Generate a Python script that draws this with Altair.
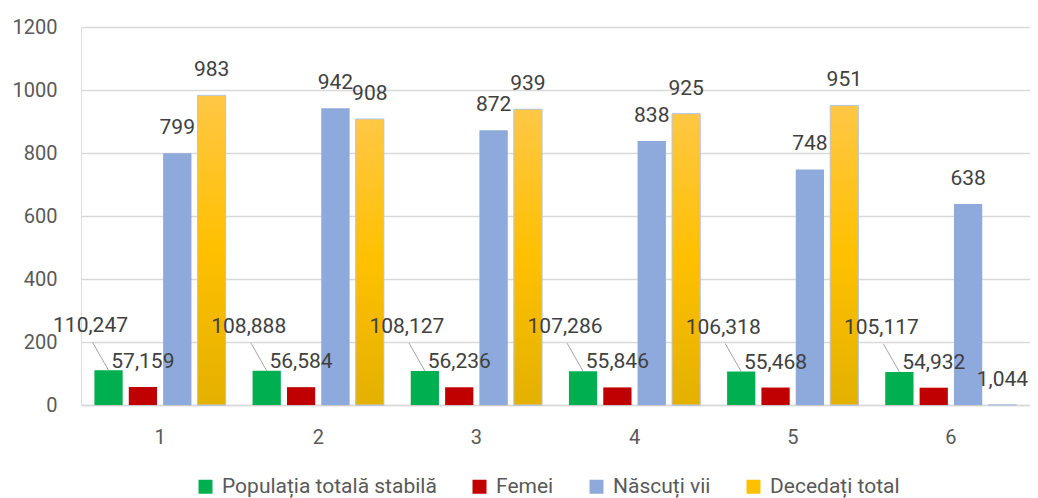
import altair as alt
import pandas as pd

categories = ["1", "2", "3", "4", "5", "6"]
series_names = ["Populația totală stabilă", "Femei", "Născuți vii", "Decedați total"]
populatie = [110.247, 108.888, 108.127, 107.286, 106.318, 105.117]
femei = [57.159, 56.584, 56.236, 55.846, 55.468, 54.932]
nascuti = [799, 942, 872, 838, 748, 638]
decedati = [983, 908, 939, 925, 951, 1.044]
colors = ["#00B050", "#C00000", "#8EA9DB", "#FFC000"]
y_ticks = [0, 200, 400, 600, 800, 1000, 1200]


def fmt(v):
    if float(v).is_integer():
        return str(int(v))
    return f"{v:.3f}".replace(".", ",")


rows = []
for s, vals in zip(series_names, [populatie, femei, nascuti, decedati]):
    for c, v in zip(categories, vals):
        rows.append({"cat": c, "series": s, "value": v, "label": fmt(v)})
df = pd.DataFrame(rows)

FONT = "Roboto"

x_enc = alt.X(
    "cat:N",
    sort=categories,
    scale=alt.Scale(paddingInner=0.17, paddingOuter=0.085),
    axis=alt.Axis(
        title=None, labelAngle=0, ticks=False, domain=True, domainColor="#D9D9D9",
        domainWidth=1.5, labelFontSize=20, labelColor="#595959", labelFont=FONT,
        labelPadding=22, grid=False,
    ),
)
xo_enc = alt.XOffset(
    "series:N", sort=series_names,
    scale=alt.Scale(domain=series_names, paddingInner=0.18, paddingOuter=0),
)
y_enc = alt.Y(
    "value:Q",
    scale=alt.Scale(domain=[0, 1200], nice=False),
    axis=alt.Axis(
        title=None, values=y_ticks, format="d", ticks=False, domain=False,
        gridColor="#D9D9D9", gridWidth=1.5, labelFontSize=20, labelColor="#595959",
        labelFont=FONT, labelPadding=24,
    ),
)

base = alt.Chart(df).encode(x=x_enc, xOffset=xo_enc, y=y_enc)

shadow = base.mark_bar(color="#BFBFBF", opacity=0.6, xOffset=2.5, yOffset=1)

bars = base.mark_bar().encode(
    color=alt.Color(
        "series:N", sort=series_names,
        scale=alt.Scale(domain=series_names, range=colors),
        legend=alt.Legend(
            title=None, orient="none", direction="horizontal", legendX=114, legendY=449,
            symbolType="square", symbolSize=196, symbolStrokeWidth=0, labelFontSize=21,
            labelColor="#595959", labelFont=FONT, labelOffset=6, columnPadding=32,
            padding=0, labelLimit=400,
        ),
    )
)

gradient_bars = base.mark_bar(
    color={
        "gradient": "linear",
        "x1": 0, "y1": 0, "x2": 0, "y2": 1,
        "stops": [
            {"offset": 0, "color": "#FFC745"},
            {"offset": 0.5, "color": "#FFC000"},
            {"offset": 1, "color": "#E3B100"},
        ],
    },
    stroke="#B4C7E7", strokeWidth=1,
).transform_filter(alt.datum.series == series_names[3])

leader = base.mark_point(
    shape="M -0.57 -1 L 0 0", size=3136, filled=False, color="#A6A6A6",
    strokeWidth=1, opacity=1,
).transform_filter(alt.datum.series == series_names[0])

labels_main = base.mark_text(
    dy=-25, fontSize=21, color="#404040", font=FONT
).encode(text="label:N").transform_filter(alt.datum.series != series_names[0])

labels_pop = base.mark_text(
    dx=-18, dy=-44, fontSize=21, color="#404040", font=FONT
).encode(text="label:N").transform_filter(alt.datum.series == series_names[0])

chart = (
    alt.layer(shadow, bars, gradient_bars, leader, labels_main, labels_pop)
    .properties(
        width=949, height=378,
        autosize=alt.AutoSizeParams(type="none"),
        padding={"left": 73, "top": 19, "right": 0, "bottom": 93},
    )
    .configure_view(stroke=None)
    .configure(background="white")
)

chart.save("out.html", embed_options={"renderer": "svg", "actions": False})
